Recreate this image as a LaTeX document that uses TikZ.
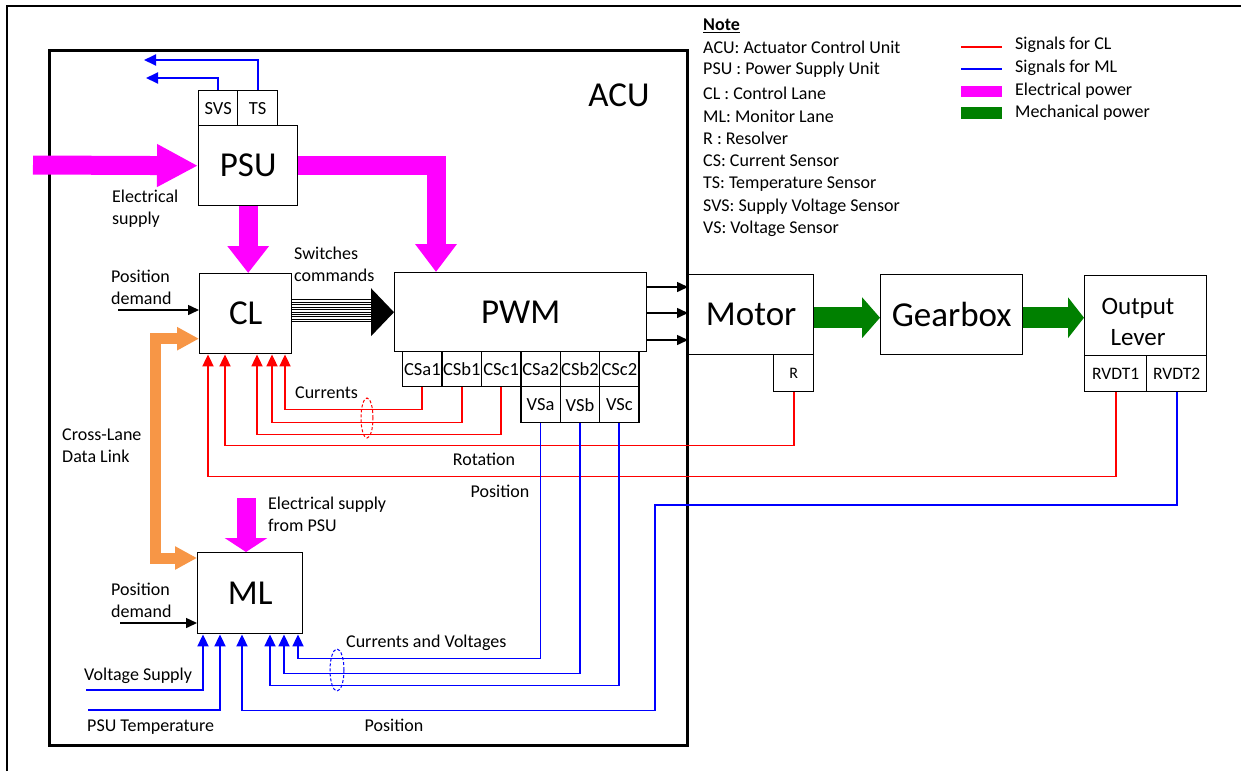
\documentclass[tikz,border=0pt]{standalone}
\usepackage{fontspec}
\setmainfont{Carlito}
\usetikzlibrary{arrows.meta,calc}
\definecolor{sigred}{RGB}{255,0,0}
\definecolor{sigblue}{RGB}{0,0,255}
\definecolor{epow}{RGB}{255,0,255}
\definecolor{mpow}{RGB}{0,128,0}
\definecolor{xlane}{RGB}{247,150,70}
\begin{document}
\begin{tikzpicture}[x=1pt,y=-1pt,
  box/.style={draw,line width=1.4pt,inner sep=0pt,anchor=north west,font=\fontsize{35}{40}\selectfont},
  sbox/.style={draw,line width=1.3pt,inner sep=0pt,anchor=north west,font=\fontsize{18.5}{20}\selectfont},
  lbl/.style={inner sep=0pt,font=\fontsize{18}{22}\selectfont,align=left},
  redsig/.style={draw=sigred,line width=1.8pt,-{Triangle[width=11pt,length=12pt]}},
  bluesig/.style={draw=sigblue,line width=1.8pt,-{Triangle[width=11pt,length=12pt]}},
  blksig/.style={draw=black,line width=1.5pt,-{Triangle[width=10pt,length=11pt]}},
  epower/.style={draw=epow,line width=19pt,line join=miter},
  mpower/.style={draw=mpow,line width=21pt},
  xlink/.style={draw=xlane,line width=11pt,line join=miter,{Triangle[width=22pt,length=22pt]}-{Triangle[width=22pt,length=22pt]}},
  bundle/.style={draw=black,line width=0.9pt},
  bunch/.style={dashed,dash pattern=on 3pt off 2pt,line width=1pt},
]
\useasboundingbox (0,0) rectangle (1241,771);
\fill[white] (0,0) rectangle (1241,771);
\draw[line width=2pt] (7,771) -- (7,6) -- (1241,6);

% ACU frame
\node[draw,line width=3pt,inner sep=0pt,anchor=north west,minimum width=638pt,minimum height=695pt] (acu) at (48,49) {};
\node[inner sep=0pt,font=\fontsize{35}{40}\selectfont] (acut) at (619,95) {ACU};

% blocks
\node[box,minimum width=99pt,minimum height=80pt] (psu) at (198,125) {PSU};
\node[sbox,minimum width=39pt,minimum height=35pt] (svs) at (198,90) {SVS};
\node[sbox,minimum width=40pt,minimum height=35pt] (ts) at (237,90) {TS};
\node[box,minimum width=92pt,minimum height=80pt] (cl) at (199,273) {CL};
\node[box,minimum width=252pt,minimum height=79pt] (pwm) at (394,272) {PWM};
\node[sbox,minimum width=39.4pt,minimum height=35pt] (csa1) at (402,351) {CSa1};
\node[sbox,minimum width=39.4pt,minimum height=35pt] (csb1) at (441.4,351) {CSb1};
\node[sbox,minimum width=39.4pt,minimum height=35pt] (csc1) at (480.8,351) {CSc1};
\node[sbox,minimum width=39.4pt,minimum height=35pt] (csa2) at (520.2,351) {CSa2};
\node[sbox,minimum width=39.4pt,minimum height=35pt] (csb2) at (559.6,351) {CSb2};
\node[sbox,minimum width=39.4pt,minimum height=35pt] (csc2) at (599,351) {CSc2};
\node[sbox,minimum width=39.4pt,minimum height=36pt] (vsa) at (520.2,386) {VSa};
\node[sbox,minimum width=39.4pt,minimum height=36pt] (vsb) at (559.6,386) {VSb};
\node[sbox,minimum width=39.4pt,minimum height=36pt] (vsc) at (599,386) {VSc};
\node[box,minimum width=105pt,minimum height=81pt] (ml) at (197,552) {ML};
\node[box,minimum width=125pt,minimum height=80pt] (motor) at (688,274) {Motor};
\node[sbox,minimum width=40pt,minimum height=37pt,font=\fontsize{16}{18}\selectfont] (r) at (773,354) {R};
\node[box,minimum width=142pt,minimum height=80pt] (gear) at (880,274) {Gearbox};
\node[box,minimum width=122pt,minimum height=80pt] (out) at (1084,275) {};
\node[inner sep=0pt,align=center,font=\fontsize{25}{31}\selectfont] (outt) at (1138,322) {Output\\Lever};
\node[sbox,minimum width=62pt,minimum height=36pt,font=\fontsize{17.5}{20}\selectfont] (rvdt1) at (1084,355) {RVDT1};
\node[sbox,minimum width=60pt,minimum height=36pt,font=\fontsize{17.5}{20}\selectfont] (rvdt2) at (1146,355) {RVDT2};

% labels
\node[lbl,anchor=west] (esup) at (112,209) {Electrical\\supply};
\node[lbl,anchor=west] (swc) at (294,264) {Switches\\commands};
\node[lbl,anchor=west] (pdcl) at (111,287) {Position\\demand};
\node[lbl,anchor=west] (curr) at (295,393) {Currents};
\node[lbl] (rot) at (484,459) {Rotation};
\node[lbl] (pos1) at (500,491) {Position};
\node[lbl,anchor=west] (xll) at (62,446) {Cross-Lane\\Data Link};
\node[lbl,anchor=west] (esml) at (268,514) {Electrical supply\\from PSU};
\node[lbl,anchor=west] (pdml) at (111,600) {Position\\demand};
\node[lbl,anchor=west] (cav) at (346,643) {Currents and Voltages};
\node[lbl,anchor=west] (vsl) at (84,676) {Voltage Supply};
\node[lbl,anchor=west] (psut) at (87,727) {PSU Temperature};
\node[lbl] (pos2) at (394,725) {Position};

% note
\node[lbl,anchor=west] (note) at (703,26) {\underline{\textbf{Note}}};
\node[lbl,anchor=west] (n1) at (703,47) {ACU: Actuator Control Unit};
\node[lbl,anchor=west] (n2) at (703,70) {PSU : Power Supply Unit};
\node[lbl,anchor=west] (n3) at (703,93) {CL : Control Lane};
\node[lbl,anchor=west] (n4) at (703,116) {ML: Monitor Lane};
\node[lbl,anchor=west] (n5) at (703,138) {R : Resolver};
\node[lbl,anchor=west] (n6) at (703,161) {CS: Current Sensor};
\node[lbl,anchor=west] (n7) at (703,184) {TS: Temperature Sensor};
\node[lbl,anchor=west] (n8) at (703,207) {SVS: Supply Voltage Sensor};
\node[lbl,anchor=west] (n9) at (703,229) {VS: Voltage Sensor};

% legend
\draw[sigred,line width=1.5pt] (961,47) -- (1002,47);
\draw[sigblue,line width=1.5pt] (961,69) -- (1002,69);
\fill[epow] (961,86) rectangle (1002,97);
\fill[mpow] (961,107) rectangle (1002,119);
\node[lbl,anchor=west] (l1) at (1015,45) {Signals for CL};
\node[lbl,anchor=west] (l2) at (1015,68) {Signals for ML};
\node[lbl,anchor=west] (l3) at (1015,91) {Electrical power};
\node[lbl,anchor=west] (l4) at (1015,113) {Mechanical power};

% power arrows
\coordinate (pin) at (33,165);
\draw[epower,-{Triangle[width=40pt,length=41pt]}] (pin) -- (psu.west);
\draw[epower,-{Triangle[width=40pt,length=28pt]}] (psu.east) -| ($(pwm.north west)+(42,0)$);
\draw[epower,-{Triangle[width=40pt,length=27pt]}] (psu.south) -- (psu.south |- cl.north);
\coordinate (mlpin) at (246,498);
\draw[epower,-{Triangle[width=42pt,length=14pt]}] (mlpin) -- (mlpin |- ml.north);
\draw[xlink] ($(cl.west)+(0,25)$) -| ($(ml.north west)+(-42,6)$) -- ($(ml.north west)+(0,6)$);
\draw[mpower,-{Triangle[width=40pt,length=18pt]}] ($(motor.east)+(0,3)$) -- ($(gear.west)+(0,3)$);
\draw[mpower,-{Triangle[width=40pt,length=16pt]}] ($(gear.east)+(0,3)$) -- ($(out.west)+(0,2)$);

% switches bundle
\foreach \k in {0,...,9}
  \draw[bundle] ($(cl.east)+(0,-14+2.45*\k)$) -- ++(81,0);
\fill[black] ($(pwm.west)+(-23,-24)$) -- (pwm.west) -- ($(pwm.west)+(-23,24)$) -- cycle;

% PWM to motor
\foreach \dy in {15,41,68}
  \draw[blksig] ($(pwm.north east)+(0,\dy)$) coordinate (tmp) -- (tmp -| motor.west);

% position demands
\coordinate (pdin1) at (118,310);
\draw[blksig] (pdin1) -- (pdin1 -| cl.west);
\coordinate (pdin2) at (120,623);
\draw[blksig] (pdin2) -- (pdin2 -| ml.west);

% SVS / TS outputs
\coordinate (svsout) at (146,78);
\coordinate (tsout) at (144,60);
\draw[bluesig] (svs.north) |- (svsout);
\draw[bluesig] (ts.north) |- (tsout);

% red signals to CL
\draw[redsig] (csa1.south) |- ($(cl.south west)+(86,55)$) -- ($(cl.south west)+(86,0)$);
\draw[redsig] (csb1.south) |- ($(cl.south west)+(73,68)$) -- ($(cl.south west)+(73,0)$);
\draw[redsig] (csc1.south) |- ($(cl.south west)+(58,80)$) -- ($(cl.south west)+(58,0)$);
\draw[redsig] (r.south) |- ($(cl.south west)+(26,91)$) -- ($(cl.south west)+(26,0)$);
\draw[redsig] (rvdt1.south) |- ($(cl.south west)+(9,122)$) -- ($(cl.south west)+(9,0)$);
\draw[sigred,bunch] (367,418) ellipse [x radius=6pt,y radius=20pt];

% blue signals to ML
\draw[bluesig] (vsa.south) |- ($(ml.south west)+(101,24)$) -- ($(ml.south west)+(101,0)$);
\draw[bluesig] (vsb.south) |- ($(ml.south west)+(87,39)$) -- ($(ml.south west)+(87,0)$);
\draw[bluesig] (vsc.south) |- ($(ml.south west)+(73,51)$) -- ($(ml.south west)+(73,0)$);
\draw[bluesig] (rvdt2.south) |- (655,505) |- ($(ml.south west)+(45,76)$) -- ($(ml.south west)+(45,0)$);
\coordinate (vsupin) at (86,690);
\coordinate (psutin) at (88,710);
\draw[bluesig] (vsupin) -| ($(ml.south west)+(6,0)$);
\draw[bluesig] (psutin) -| ($(ml.south west)+(23,0)$);
\draw[sigblue,bunch] (337,670) ellipse [x radius=7pt,y radius=21pt];
\end{tikzpicture}
\end{document}
